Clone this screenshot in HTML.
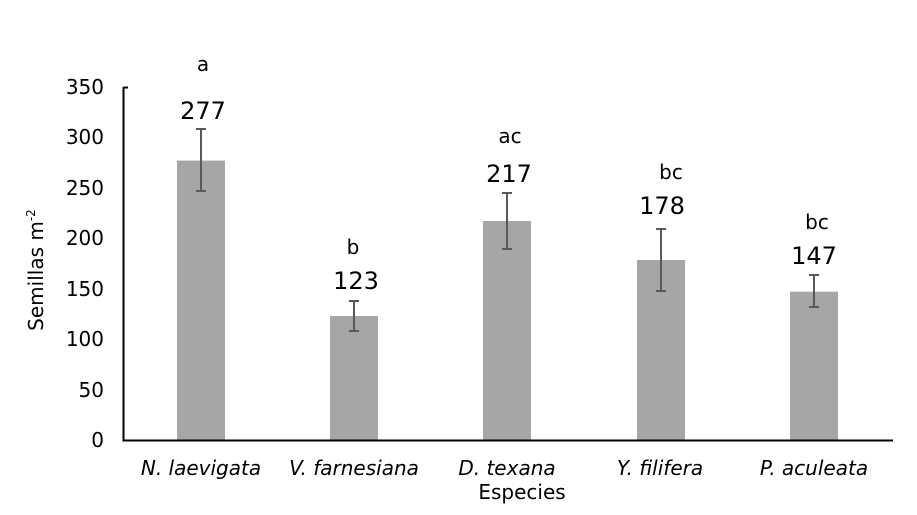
<!DOCTYPE html>
<html><head><style>
body{margin:0;background:#fff}
text{font-family:"DejaVu Sans","Liberation Sans",sans-serif;fill:#000}
</style></head><body>
<svg width="917" height="510" xmlns="http://www.w3.org/2000/svg">
<rect width="917" height="510" fill="#fff"/>
<g fill="#a6a6a6">
<rect x="177" y="160.6" width="48" height="279.4"/>
<rect x="330" y="316" width="48" height="124"/>
<rect x="483" y="221" width="48" height="219"/>
<rect x="637" y="260" width="48" height="180"/>
<rect x="790" y="291.7" width="48" height="148.3"/>
</g>
<g stroke="#595959" stroke-width="2">
<path d="M201 129V191M196 129H206M196 191H206"/>
<path d="M354 301V331M349 301H359M349 331H359"/>
<path d="M507 193V249M502 193H512M502 249H512"/>
<path d="M661 229V291M656 229H666M656 291H666"/>
<path d="M814 275V307M809 275H819M809 307H819"/>
</g>
<path d="M123.5 87V440.5H893M123.5 87.5H128" stroke="#000" stroke-width="2" fill="none"/>
<g font-size="20" text-anchor="end">
<text x="104" y="447">0</text><text x="104" y="397">50</text><text x="104" y="346">100</text>
<text x="104" y="296">150</text><text x="104" y="245">200</text><text x="104" y="195">250</text>
<text x="104" y="144">300</text><text x="104" y="94">350</text>
</g>
<g font-size="24" text-anchor="middle">
<text x="203" y="119">277</text><text x="356" y="289">123</text><text x="509" y="182">217</text>
<text x="662" y="214">178</text><text x="814" y="264">147</text>
</g>
<g font-size="20" text-anchor="middle">
<text x="203" y="71">a</text><text x="353" y="254">b</text><text x="510" y="143">ac</text>
<text x="671" y="179">bc</text><text x="817" y="229">bc</text>
</g>
<g font-size="20" text-anchor="middle" font-style="italic">
<text x="201" y="475">N. laevigata</text><text x="354" y="475">V. farnesiana</text>
<text x="507" y="475">D. texana</text><text x="660" y="475">Y. filifera</text><text x="814" y="475">P. aculeata</text>
</g>
<text x="522" y="499" font-size="20" text-anchor="middle">Especies</text>
<text transform="translate(43,270) rotate(-90)" font-size="20" text-anchor="middle">Semillas m<tspan font-size="12" dy="-8">-2</tspan></text>
</svg>
</body></html>
